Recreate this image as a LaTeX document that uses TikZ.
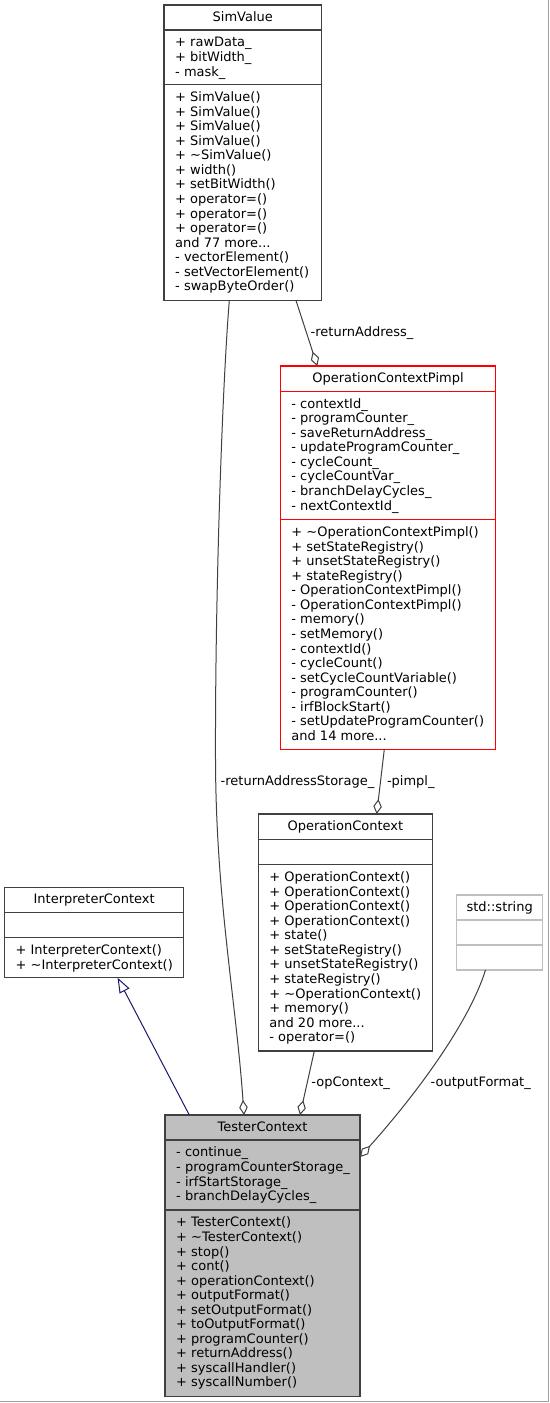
\documentclass[tikz,border=0pt]{standalone}
\usepackage{fontspec}
\setmainfont{DejaVu Sans}
\usetikzlibrary{arrows.meta}
\definecolor{edgegray}{HTML}{404040}
\definecolor{boxgray}{HTML}{404040}
\definecolor{tcfill}{HTML}{BFBFBF}
\definecolor{strgray}{HTML}{BFBFBF}
\definecolor{navyedge}{HTML}{191970}
\definecolor{pagegray}{HTML}{A0A0A0}
\newcommand{\umlf}{\fontsize{13}{14.55}\selectfont}
\newcommand{\fl}{\rule{0pt}{10.2pt}}
\begin{document}
\begin{tikzpicture}[x=1pt,y=-1pt,
  umlbox/.style={draw=boxgray, line width=1.1pt, fill=white, inner sep=0pt, outer sep=0pt, anchor=north west},
  sepline/.style={draw=boxgray, line width=1.1pt},
  ttl/.style={font=\umlf, anchor=base, inner sep=0pt},
  mem/.style={font=\umlf, align=left, anchor=north west, inner sep=0pt},
  lbl/.style={font=\umlf, anchor=base west, inner sep=0pt},
  aggr/.style={draw=edgegray, line width=1pt, -{Diamond[open, length=15pt, width=8.5pt]}},
  inh/.style={draw=navyedge, line width=1pt, -{Triangle[open, length=15pt, width=11pt]}}
]
\useasboundingbox (0,0) rectangle (549,1403);
\fill[white] (0,0) rectangle (549,1403);
\draw[pagegray, line width=1.5pt] (0,1401.5) -- (548.5,1401.5) -- (548.5,0);

% SimValue
\node[umlbox, minimum width=157.5pt, minimum height=295.5pt] (sv) at (164,5) {};
\draw[sepline] (sv.west |- 0,30) -- (sv.east |- 0,30);
\draw[sepline] (sv.west |- 0,84.7) -- (sv.east |- 0,84.7);
\node[ttl] (svt) at (242.75,21) {SimValue};
\node[mem] (sva) at (175,36.5) {\fl + rawData\_\\+ bitWidth\_\\- mask\_};
\node[mem] (svm) at (175,91.2) {\fl + SimValue()\\+ SimValue()\\+ SimValue()\\+ SimValue()\\+ \textasciitilde SimValue()\\+ width()\\+ setBitWidth()\\+ operator=()\\+ operator=()\\+ operator=()\\and 77 more...\\- vectorElement()\\- setVectorElement()\\- swapByteOrder()};

% OperationContextPimpl
\node[umlbox, draw=red, minimum width=214.6pt, minimum height=383.3pt] (ocp) at (280.7,366) {};
\draw[sepline, draw=red] (ocp.west |- 0,391.3) -- (ocp.east |- 0,391.3);
\draw[sepline, draw=red] (ocp.west |- 0,519.7) -- (ocp.east |- 0,519.7);
\node[ttl] (ocpt) at (388,382) {OperationContextPimpl};
\node[mem] (ocpa) at (291.2,397.8) {\fl - contextId\_\\- programCounter\_\\- saveReturnAddress\_\\- updateProgramCounter\_\\- cycleCount\_\\- cycleCountVar\_\\- branchDelayCycles\_\\- nextContextId\_};
\node[mem] (ocpm) at (291.2,526.2) {\fl + \textasciitilde OperationContextPimpl()\\+ setStateRegistry()\\+ unsetStateRegistry()\\+ stateRegistry()\\- OperationContextPimpl()\\- OperationContextPimpl()\\- memory()\\- setMemory()\\- contextId()\\- cycleCount()\\- setCycleCountVariable()\\- programCounter()\\- irfBlockStart()\\- setUpdateProgramCounter()\\and 14 more...};

% OperationContext
\node[umlbox, minimum width=174pt, minimum height=237pt] (oc) at (258.4,814) {};
\draw[sepline] (oc.west |- 0,839.3) -- (oc.east |- 0,839.3);
\draw[sepline] (oc.west |- 0,864.7) -- (oc.east |- 0,864.7);
\node[ttl] (oct) at (345.4,830) {OperationContext};
\node[mem] (ocm) at (269.2,871.2) {\fl + OperationContext()\\+ OperationContext()\\+ OperationContext()\\+ OperationContext()\\+ state()\\+ setStateRegistry()\\+ unsetStateRegistry()\\+ stateRegistry()\\+ \textasciitilde OperationContext()\\+ memory()\\and 20 more...\\- operator=()};

% InterpreterContext
\node[umlbox, minimum width=179.2pt, minimum height=90.4pt] (ic) at (4.6,887.3) {};
\draw[sepline] (ic.west |- 0,912.7) -- (ic.east |- 0,912.7);
\draw[sepline] (ic.west |- 0,937.7) -- (ic.east |- 0,937.7);
\node[ttl] (ict) at (94.2,903.3) {InterpreterContext};
\node[mem] (icm) at (15.4,944.2) {\fl + InterpreterContext()\\+ \textasciitilde InterpreterContext()};

% std::string
\node[umlbox, draw=strgray, minimum width=86pt, minimum height=75pt] (str) at (456.7,895) {};
\draw[sepline, draw=strgray] (str.west |- 0,920) -- (str.east |- 0,920);
\draw[sepline, draw=strgray] (str.west |- 0,945) -- (str.east |- 0,945);
\node[ttl] (strt) at (499.7,911) {std::string};

% TesterContext
\node[umlbox, fill=tcfill, minimum width=195pt, minimum height=281.7pt] (tc) at (165,1115) {};
\draw[sepline] (tc.west |- 0,1140) -- (tc.east |- 0,1140);
\draw[sepline] (tc.west |- 0,1210) -- (tc.east |- 0,1210);
\node[ttl] (tct) at (262.5,1131) {TesterContext};
\node[mem] (tca) at (176,1146.5) {\fl - continue\_\\- programCounterStorage\_\\- irfStartStorage\_\\- branchDelayCycles\_};
\node[mem] (tcm) at (176,1216.5) {\fl + TesterContext()\\+ \textasciitilde TesterContext()\\+ stop()\\+ cont()\\+ operationContext()\\+ outputFormat()\\+ setOutputFormat()\\+ toOutputFormat()\\+ programCounter()\\+ returnAddress()\\+ syscallHandler()\\+ syscallNumber()};

% Edges
\draw[aggr] ([xshift=65.3pt]sv.south west) .. controls (222,390) and (215,600) .. (215.5,760)
  .. controls (216,900) and (236,1000) .. ([xshift=79pt]tc.north west);
\node[lbl] (l1) at (220.5,785.7) {-returnAddressStorage\_};

\draw[aggr] ([xshift=132pt]sv.south west) -- ([xshift=36.6pt]ocp.north west);
\node[lbl] (l2) at (310.5,336.9) {-returnAddress\_};

\draw[aggr] ([xshift=103.6pt]ocp.south west) -- ([xshift=118.3pt]oc.north west);
\node[lbl] (l3) at (386.8,785.7) {-pimpl\_};

\draw[aggr] ([xshift=55.9pt]oc.south west) -- ([xshift=135pt]tc.north west);
\node[lbl] (l4) at (311.2,1086.9) {-opContext\_};

\draw[aggr] ([xshift=28.8pt]str.south west) .. controls (470,1020) and (420,1090) .. ([yshift=-42pt]tc.north east);
\node[lbl] (l5) at (430.5,1086.9) {-outputFormat\_};

\draw[inh] ([xshift=24.3pt]tc.north west) -- ([xshift=113pt]ic.south west);
\end{tikzpicture}
\end{document}
